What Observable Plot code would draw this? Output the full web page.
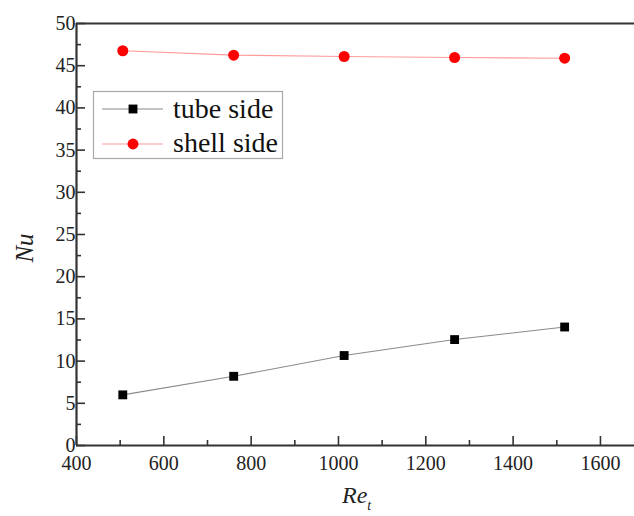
<!DOCTYPE html>
<html>
<head>
<meta charset="utf-8">
<script src="https://cdn.jsdelivr.net/npm/d3@7"></script>
<script src="https://cdn.jsdelivr.net/npm/@observablehq/plot@0.6"></script>
<style>
  html, body { margin: 0; padding: 0; background: white; }
  #chart svg { display: block; }
  #chart svg text { font-family: "Liberation Serif", "Times New Roman", Tinos, "DejaVu Serif", serif; }
</style>
</head>
<body>
<div id="chart"></div>
<script>
// Reynolds number (tube side) and Nusselt numbers for both sides
const reT = [506, 760, 1013, 1266, 1518];
const nuTube = [6.0, 8.2, 10.66, 12.55, 14.04];
const nuShell = [46.77, 46.25, 46.09, 45.97, 45.89];

const xTicks = [400, 600, 800, 1000, 1200, 1400, 1600];
const xMinor = [500, 700, 900, 1100, 1300, 1500];
const yTicks = [0, 5, 10, 15, 20, 25, 30, 35, 40, 45, 50];
const yMinor = [2.5, 7.5, 12.5, 17.5, 22.5, 27.5, 32.5, 37.5, 42.5, 47.5];

const seriesNames = ["tube side", "shell side"];

const tube = reT.map((x, i) => ({x, y: nuTube[i]}));
const shell = reT.map((x, i) => ({x, y: nuShell[i]}));

const axisColor = "#333";
const serif = '"Liberation Serif", "Times New Roman", Tinos, "DejaVu Serif", serif';

const chart = Plot.plot({
  width: 634,
  height: 516,
  marginLeft: 76,
  marginRight: 0,
  marginTop: 23,
  marginBottom: 71,
  style: {fontFamily: serif, fontSize: "20px", color: "#222", background: "white"},
  x: {domain: [400, 1678]},
  y: {domain: [0, 50]},
  marks: [
    Plot.axisX({ticks: xTicks, tickSize: -9, tickPadding: 19, tickFormat: d => String(d), label: null, strokeWidth: 1.6, stroke: axisColor}),
    Plot.axisX({ticks: xMinor, tickSize: -5, tickFormat: () => "", label: null, strokeWidth: 1.6, stroke: axisColor}),
    Plot.axisY({ticks: yTicks, tickSize: -9, tickPadding: 10, tickFormat: d => String(d), label: null, strokeWidth: 1.6, stroke: axisColor}),
    Plot.axisY({ticks: yMinor, tickSize: -5, tickFormat: () => "", label: null, strokeWidth: 1.6, stroke: axisColor}),
    Plot.ruleY([0], {stroke: axisColor, strokeWidth: 2.2}),
    Plot.ruleY([50], {stroke: axisColor, strokeWidth: 2.2}),
    Plot.ruleX([400], {stroke: axisColor, strokeWidth: 2.2}),
    Plot.line(tube, {x: "x", y: "y", stroke: "#8a8a8a", strokeWidth: 1.1}),
    Plot.dot(tube, {x: "x", y: "y", symbol: "square", r: 5, fill: "black", stroke: "none"}),
    Plot.line(shell, {x: "x", y: "y", stroke: "#ff9a9a", strokeWidth: 1.1}),
    Plot.dot(shell, {x: "x", y: "y", symbol: "circle", r: 5.5, fill: "#ff0000", stroke: "none"})
  ]
});

document.getElementById("chart").appendChild(chart);

// Axis titles and legend drawn onto the plot's SVG
const svg = d3.select(chart);

svg.append("text")
  .attr("transform", "translate(33,248) rotate(-90)")
  .style("text-anchor", "middle")
  .style("font-style", "italic")
  .style("font-size", "25px")
  .attr("fill", "#222")
  .text("Nu");

const reLabel = svg.append("text")
  .attr("x", 342)
  .attr("y", 503)
  .style("text-anchor", "start")
  .style("font-style", "italic")
  .style("font-size", "24px")
  .attr("fill", "#222");
reLabel.append("tspan").text("Re");
reLabel.append("tspan").style("font-size", "14px").attr("dy", 7).text("t");

const legend = svg.append("g");
legend.append("rect")
  .attr("x", 93.5).attr("y", 91.5).attr("width", 189).attr("height", 67)
  .attr("fill", "white").attr("stroke", "#a8a8a8").attr("stroke-width", 1.2);

const rows = [
  {name: seriesNames[0], line: "#8a8a8a", fill: "black", symbol: d3.symbolSquare, cy: 109, base: 118},
  {name: seriesNames[1], line: "#ff9a9a", fill: "#ff0000", symbol: d3.symbolCircle, cy: 144, base: 152}
];
for (const r of rows) {
  legend.append("line")
    .attr("x1", 102).attr("x2", 163).attr("y1", r.cy).attr("y2", r.cy)
    .attr("stroke", r.line).attr("stroke-width", 1.2);
  legend.append("path")
    .attr("transform", `translate(133,${r.cy})`)
    .attr("d", d3.symbol(r.symbol, Math.PI * (r.symbol === d3.symbolSquare ? 25 : 30)))
    .attr("fill", r.fill);
  legend.append("text")
    .attr("x", 173).attr("y", r.base)
    .style("text-anchor", "start")
    .style("font-size", "28px")
    .attr("fill", "#111")
    .text(r.name);
}
</script>
</body>
</html>
